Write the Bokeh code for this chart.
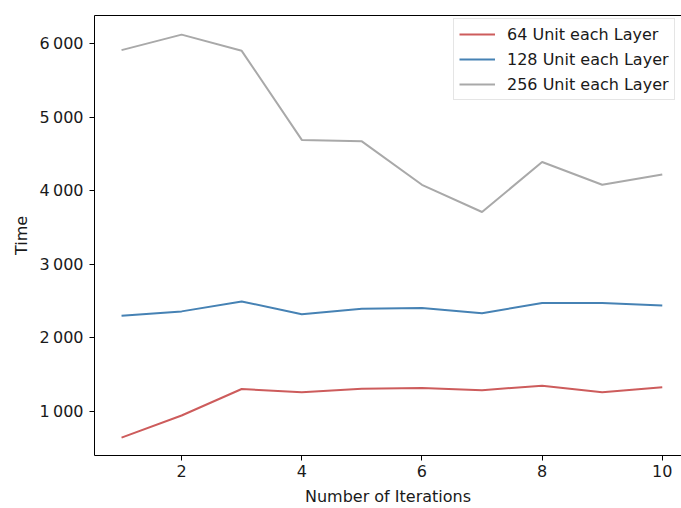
from bokeh.plotting import figure
from bokeh.models import FixedTicker, Range1d, Legend, LegendItem, LinearAxis
from bokeh.embed import file_html
from bokeh.resources import INLINE

iterations = [1, 2, 3, 4, 5, 6, 7, 8, 9, 10]
unit64 = [645, 945, 1305, 1260, 1310, 1320, 1290, 1350, 1260, 1330]
unit128 = [2300, 2360, 2495, 2320, 2395, 2405, 2335, 2475, 2475, 2440]
unit256 = [5910, 6120, 5900, 4690, 4670, 4080, 3710, 4390, 4080, 4220]

series_names = ["64 Unit each Layer", "128 Unit each Layer", "256 Unit each Layer"]
colors = ["#cd5c5c", "#4682b4", "#a9a9a9"]

y_ticks = [1000, 2000, 3000, 4000, 5000, 6000]
y_tick_labels = {t: f"{t:,}".replace(",", "\u2009") for t in y_ticks}
x_ticks = [2, 4, 6, 8, 10]

FONT = "DejaVu Sans"
FS = "16px"

p = figure(width=681, height=508, output_backend="svg", toolbar_location=None,
           x_range=Range1d(0.55, 10.32), y_range=Range1d(402, 6380),
           min_border_left=94, min_border_right=0, min_border_top=15,
           min_border_bottom=53)
p.xgrid.visible = False
p.ygrid.visible = False
p.outline_line_color = None
p.background_fill_color = "white"
p.border_fill_color = "white"

bottom = p.below[0]
left = p.left[0]

renderers = []
for vals, col in zip([unit64, unit128, unit256], colors):
    r = p.line(iterations, vals, line_color=col, line_width=2)
    renderers.append(r)

for ax in (bottom, left):
    ax.major_tick_in = 0
    ax.major_tick_out = 5
    ax.minor_tick_line_color = None
    ax.axis_line_color = "black"
    ax.major_label_text_font = FONT
    ax.major_label_text_font_size = FS
    ax.major_label_text_color = "#1a1a1a"
    ax.axis_label_text_font = FONT
    ax.axis_label_text_font_size = FS
    ax.axis_label_text_font_style = "normal"
    ax.axis_label_text_color = "#1a1a1a"

bottom.ticker = FixedTicker(ticks=x_ticks)
left.ticker = FixedTicker(ticks=y_ticks)
left.major_label_overrides = y_tick_labels
bottom.axis_label = "Number of Iterations"
left.axis_label = "Time"
bottom.major_label_standoff = 4
bottom.axis_label_standoff = 7
left.major_label_standoff = 6
left.axis_label_standoff = 6

# top spine only (the right spine falls outside the picture in the reference)
top = LinearAxis(ticker=FixedTicker(ticks=[]), major_label_text_font_size="0px",
                 major_label_standoff=0, major_tick_out=0, major_tick_in=0,
                 major_tick_line_color=None, minor_tick_line_color=None,
                 axis_line_color="black")
p.add_layout(top, "above")

legend = Legend(items=[LegendItem(label=n, renderers=[r]) for n, r in zip(series_names, renderers)],
                location=(359, 355))
legend.label_text_font = FONT
legend.label_text_font_size = FS
legend.label_text_color = "#1a1a1a"
legend.glyph_width = 36
legend.glyph_height = 20
legend.label_height = 20
legend.label_standoff = 12
legend.spacing = 5
legend.padding = 5
legend.margin = 0
legend.border_line_color = "#cccccc"
legend.border_line_width = 1
legend.background_fill_alpha = 0.9
p.add_layout(legend)

open("out.html", "w").write(file_html(p, INLINE))
